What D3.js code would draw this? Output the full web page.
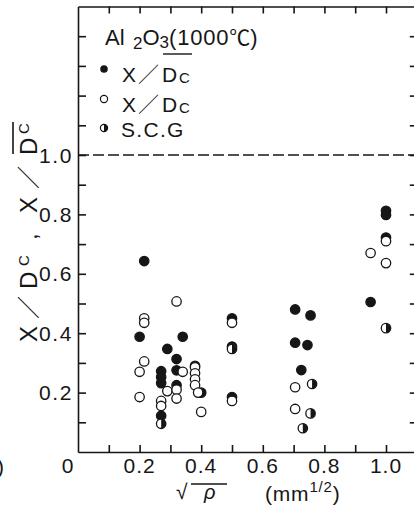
<!DOCTYPE html>
<html lang="ja">
<head>
<meta charset="UTF-8">
<title>Al2O3 (1000℃) X/Dc vs √ρ</title>
<style>
  html, body { margin: 0; padding: 0; background: #fff; }
  svg { display: block; }
  text { font-family: "Liberation Sans", Arial, Helvetica, sans-serif; fill: #161616; }
</style>
<script src="https://d3js.org/d3.v7.min.js"></script>
</head>
<body>
<div id="chart"></div>
<script>
// X / Dc-bar  (filled circles)
const filledX = [0.215, 0.20, 0.29, 0.27, 0.27, 0.27, 0.27, 0.34, 0.32, 0.32, 0.32, 0.38, 0.40,
                 0.50, 0.50, 0.50, 0.705, 0.755, 0.705, 0.745, 0.725, 0.95, 1.0, 1.0, 1.0];
const filledY = [0.643, 0.388, 0.347, 0.272, 0.252, 0.232, 0.122, 0.388, 0.313, 0.275, 0.225, 0.29, 0.20,
                 0.45, 0.355, 0.185, 0.48, 0.46, 0.368, 0.36, 0.276, 0.505, 0.812, 0.798, 0.722];
// X / Dc  (open circles)
const openX = [0.215, 0.215, 0.215, 0.20, 0.20, 0.32, 0.34, 0.29, 0.32, 0.32, 0.27, 0.27,
               0.38, 0.38, 0.38, 0.38, 0.39, 0.40, 0.50, 0.50, 0.705, 0.705, 0.95, 1.0, 1.0];
const openY = [0.45, 0.435, 0.305, 0.27, 0.185, 0.507, 0.27, 0.205, 0.21, 0.18, 0.172, 0.155,
               0.285, 0.265, 0.245, 0.225, 0.20, 0.135, 0.435, 0.172, 0.218, 0.145, 0.67, 0.71, 0.636];
// S.C.G  (half-filled circles)
const halfX = [0.27, 0.50, 0.76, 0.755, 0.73, 1.0];
const halfY = [0.095, 0.347, 0.229, 0.13, 0.08, 0.417];

const xTicks = [0.1, 0.2, 0.3, 0.4, 0.5, 0.6, 0.7, 0.8, 0.9, 1.0, 1.1];
const xLabels = [0, 0.2, 0.4, 0.6, 0.8, 1.0];
const yTicks = [0.1, 0.2, 0.3, 0.4, 0.5, 0.6, 0.7, 0.8, 0.9, 1.0, 1.1, 1.2, 1.3, 1.4];
const yLabels = [0.2, 0.4, 0.6, 0.8, 1.0];
const refValue = 1.0;

const width = 414, height = 509;
const ink = "#161616";
const cjk = "Noto Sans CJK JP";

const x = d3.scaleLinear().domain([0, 1.1]).range([78, 416.8]);
const y = d3.scaleLinear().domain([0, 1.5]).range([452, 6.5]);

const svg = d3.select("#chart").append("svg")
    .attr("width", width)
    .attr("height", height);

// frame with inward ticks on all four sides
function styleAxis(g) {
    g.selectAll("path, line").attr("stroke", ink).attr("stroke-width", 1.6);
    g.selectAll("text").remove();
}
svg.append("g").attr("transform", `translate(0,${y(0)})`)
    .call(d3.axisBottom(x).tickValues(xTicks).tickSize(-7).tickSizeOuter(0)).call(styleAxis);
svg.append("g").attr("transform", `translate(0,${y(1.5)})`)
    .call(d3.axisTop(x).tickValues(xTicks).tickSize(-7).tickSizeOuter(0)).call(styleAxis);
svg.append("g").attr("transform", `translate(${x(0)},0)`)
    .call(d3.axisLeft(y).tickValues(yTicks).tickSize(-8).tickSizeOuter(0)).call(styleAxis);
svg.append("g").attr("transform", `translate(${x(1.1)},0)`)
    .call(d3.axisRight(y).tickValues(yTicks).tickSize(-7).tickSizeOuter(0)).call(styleAxis);

// dashed reference line at 1.0
svg.append("line")
    .attr("x1", x(0)).attr("x2", x(1.1))
    .attr("y1", y(refValue)).attr("y2", y(refValue))
    .attr("stroke", ink).attr("stroke-width", 1.6)
    .attr("stroke-dasharray", "11,4");

// tick labels
svg.append("g").selectAll("text")
    .data(xLabels)
    .enter().append("text")
    .attr("x", d => x(d) + (d === 0 ? -10 : 0))
    .attr("y", 473)
    .attr("text-anchor", "middle")
    .attr("font-size", 21)
    .attr("letter-spacing", 1)
    .text(d => d === 0 ? "0" : d3.format(".1f")(d));

svg.append("g").selectAll("text")
    .data(yLabels)
    .enter().append("text")
    .attr("x", 73)
    .attr("y", d => y(d))
    .attr("dy", "0.36em")
    .attr("text-anchor", "end")
    .attr("font-size", 21)
    .attr("letter-spacing", 1.6)
    .text(d => d3.format(".1f")(d));

// fragment of a neighbouring label cut by the scan edge
svg.append("text").attr("x", -3).attr("y", 474).attr("font-size", 21).text(")");

// markers
const r = 4.7;
const halfArc = d3.arc().innerRadius(0).outerRadius(r).startAngle(0).endAngle(Math.PI);

svg.append("g").selectAll("circle")
    .data(d3.zip(filledX, filledY))
    .enter().append("circle")
    .attr("cx", d => x(d[0])).attr("cy", d => y(d[1])).attr("r", r)
    .attr("fill", ink).attr("stroke", ink).attr("stroke-width", 1.3);

svg.append("g").selectAll("circle")
    .data(d3.zip(openX, openY))
    .enter().append("circle")
    .attr("cx", d => x(d[0])).attr("cy", d => y(d[1])).attr("r", r)
    .attr("fill", "#fff").attr("stroke", ink).attr("stroke-width", 1.3);

const halves = svg.append("g").selectAll("g")
    .data(d3.zip(halfX, halfY))
    .enter().append("g")
    .attr("transform", d => `translate(${x(d[0])},${y(d[1])})`);
halves.append("circle").attr("r", r).attr("fill", "#fff").attr("stroke", ink).attr("stroke-width", 1.3);
halves.append("path").attr("d", halfArc).attr("fill", ink);

// legend
const legend = svg.append("g");
const lt = legend.append("text").attr("x", 105).attr("y", 45).attr("font-size", 22);
lt.append("tspan").text("Al");
lt.append("tspan").attr("x", 133).attr("font-size", 17).attr("dy", 4).text("2");
lt.append("tspan").attr("dy", -4).text("O");
lt.append("tspan").attr("font-size", 17).attr("dy", 3).text("3");
lt.append("tspan").attr("dy", -3).attr("letter-spacing", 0.8).text("(1000");
lt.append("tspan").attr("font-family", cjk).attr("font-size", 21).text("℃");
lt.append("tspan").text(")");

function dcLabel(yBase, bar) {
    const t = legend.append("text").attr("y", yBase).attr("font-size", 21);
    t.append("tspan").attr("x", 122).text("X");
    t.append("tspan").attr("x", 138).attr("font-family", cjk).attr("font-size", 21).text("／");
    t.append("tspan").attr("x", 162).text("D");
    t.append("tspan").attr("x", 179).attr("font-size", 15).attr("dy", 1).text("C");
    if (bar) {
        legend.append("line").attr("x1", 163).attr("x2", 192)
            .attr("y1", yBase - 28).attr("y2", yBase - 28)
            .attr("stroke", ink).attr("stroke-width", 1.4);
    }
}
legend.append("circle").attr("cx", 104).attr("cy", 69).attr("r", 3.8).attr("fill", ink);
dcLabel(82, true);
legend.append("circle").attr("cx", 104).attr("cy", 99).attr("r", 3.6)
    .attr("fill", "#fff").attr("stroke", ink).attr("stroke-width", 1.2);
dcLabel(112, false);
const lh = legend.append("g").attr("transform", "translate(104,128)");
lh.append("circle").attr("r", 3.6).attr("fill", "#fff").attr("stroke", ink).attr("stroke-width", 1.2);
lh.append("path").attr("d", d3.arc().innerRadius(0).outerRadius(3.6).startAngle(0).endAngle(Math.PI)).attr("fill", ink);
legend.append("text").attr("x", 121).attr("y", 137).attr("font-size", 21).attr("letter-spacing", 1.3).text("S.C.G");

// y axis title, reading upwards:  X／Dc , X／Dc(bar)
const yt = svg.append("text")
    .attr("transform", "translate(37,342) rotate(-90)")
    .attr("font-size", 24);
yt.append("tspan").attr("x", 0).text("X");
yt.append("tspan").attr("x", 23).attr("font-family", cjk).attr("font-size", 23).text("／");
yt.append("tspan").attr("x", 53).text("D");
yt.append("tspan").attr("x", 76).attr("font-size", 15).attr("dy", -8).text("C");
yt.append("tspan").attr("x", 102).attr("dy", 8).text(",");
yt.append("tspan").attr("x", 129).text("X");
yt.append("tspan").attr("x", 153).attr("font-family", cjk).attr("font-size", 23).text("／");
yt.append("tspan").attr("x", 187).text("D");
yt.append("tspan").attr("x", 208).attr("font-size", 15).attr("dy", -8).text("C");
svg.append("line").attr("x1", 13).attr("x2", 13).attr("y1", 122).attr("y2", 154)
    .attr("stroke", ink).attr("stroke-width", 1.6);

// x axis title: √ρ   (mm1/2)
svg.append("text").attr("x", 176).attr("y", 499).attr("font-size", 21)
    .attr("font-family", "DejaVu Sans").text("√");
svg.append("line").attr("x1", 191).attr("x2", 227).attr("y1", 484).attr("y2", 484)
    .attr("stroke", ink).attr("stroke-width", 1.4);
svg.append("text").attr("x", 204).attr("y", 499).attr("font-size", 20)
    .attr("font-style", "italic").text("ρ");
const xu = svg.append("text").attr("x", 265).attr("y", 501).attr("font-size", 21).attr("letter-spacing", 0.8);
xu.append("tspan").text("(mm");
xu.append("tspan").attr("font-size", 15).attr("dy", -9).text("1/2");
xu.append("tspan").attr("dy", 9).text(")");
</script>
</body>
</html>
